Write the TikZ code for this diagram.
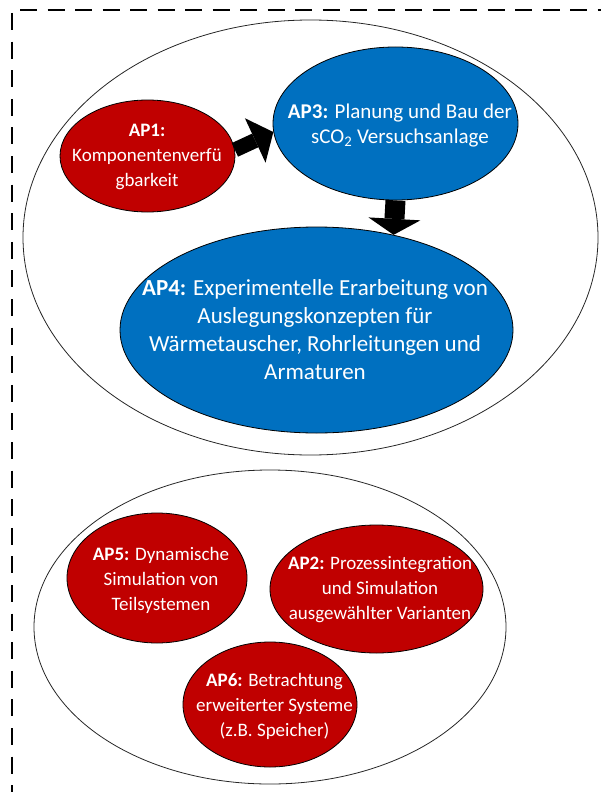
\documentclass[tikz,border=0pt]{standalone}
\usepackage{fontspec}
\setmainfont{Carlito}
\usetikzlibrary{shapes.geometric,arrows.meta}
\definecolor{apred}{HTML}{C00000}
\definecolor{apblue}{HTML}{0070C0}
\begin{document}
\begin{tikzpicture}[x=1pt,y=-1pt,
  grp/.style={ellipse, draw=black!85, line width=0.8pt, inner sep=0pt},
  ell/.style={ellipse, draw=black, line width=0.8pt, inner sep=0pt},
  redell/.style={ell, fill=apred},
  blueell/.style={ell, fill=apblue},
  txt/.style={text=white, align=center, inner sep=0pt, font=\fontsize{19}{25}\selectfont},
  midtxt/.style={txt, font=\fontsize{21}{25.5}\selectfont},
  bigtxt/.style={txt, font=\fontsize{23}{28}\selectfont},
  frame/.style={line width=1.8pt, black},
  blockarrow/.style={line width=15pt, draw=black, -{Triangle[length=20pt,width=49pt,line width=0pt]}},
  downarrow/.style={line width=20pt, draw=black, -{Triangle[length=16pt,width=52pt,line width=0pt]}}
]
\useasboundingbox (0,0) rectangle (600,792);
% dashed frame
\draw[frame, dash pattern=on 17pt off 10.5pt] (20,10) -- (615,10);
\draw[frame, dash pattern=on 17pt off 11.6pt] (12,13) -- (12,800);
% group ellipses
\node[grp, minimum width=575pt, minimum height=435pt] (g1) at (310.5,237.5) {};
\node[grp, minimum width=472pt, minimum height=314pt] (g2) at (270,627) {};
% work packages
\node[redell, minimum width=175pt, minimum height=112pt] (ap1) at (147.5,156) {};
\node[blueell, minimum width=245pt, minimum height=153pt] (ap3) at (395.5,123.5) {};
\node[blueell, minimum width=393pt, minimum height=206pt] (ap4) at (316.5,330) {};
\node[redell, minimum width=180pt, minimum height=130pt] (ap5) at (157,578) {};
\node[redell, minimum width=213pt, minimum height=128pt] (ap2) at (376.5,589) {};
\node[redell, minimum width=174pt, minimum height=125pt] (ap6) at (270,704.5) {};
% arrows
\draw[blockarrow] (ap1.4) -- (ap3.184);
\draw[downarrow] (ap3.south) -- (ap4.51);
% texts
\node[txt] (ap1t) at (147,157) {\textbf{AP1:}\\Komponentenverfü\\gbarkeit};
\node[midtxt] (ap3t) at (400,125.5) {\textbf{AP3:} Planung und Bau der\\sCO\textsubscript{2} Versuchsanlage};
\node[bigtxt] (ap4t) at (315,330) {\textbf{AP4:} Experimentelle Erarbeitung von\\Auslegungskonzepten für\\Wärmetauscher, Rohrleitungen und\\Armaturen};
\node[txt] (ap5t) at (161,580) {\textbf{AP5:} Dynamische\\Simulation von\\Teilsystemen};
\node[txt] (ap2t) at (380,590) {\textbf{AP2:} Prozessintegration\\und Simulation\\ausgewählter Varianten};
\node[txt] (ap6t) at (274.5,706) {\textbf{AP6:} Betrachtung\\erweiterter Systeme\\(z.B. Speicher)};
\end{tikzpicture}
\end{document}
